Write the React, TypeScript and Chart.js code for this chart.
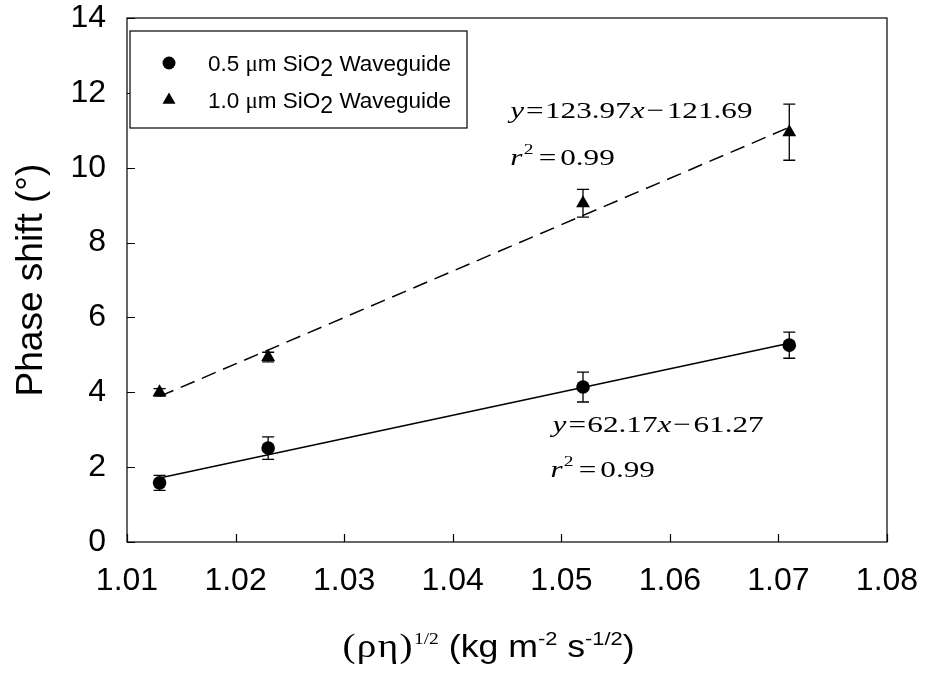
import React, { useEffect, useRef } from "react";
import { Chart, registerables } from "chart.js";

Chart.register(...registerables);

// ---- data ----
const xValues = [1.013, 1.023, 1.052, 1.071];
const phase05 = [1.58, 2.51, 4.14, 5.26];
const err05 = [0.2, 0.3, 0.4, 0.35];
const phase10 = [4.0, 4.94, 9.05, 10.95];
const err10 = [0.1, 0.13, 0.37, 0.75];
const fitX = [1.013, 1.071];
const fit05 = [1.71, 5.31];
const fit10 = [3.89, 11.08];
const xTicks = [1.01, 1.02, 1.03, 1.04, 1.05, 1.06, 1.07, 1.08];
const yTicks = [0, 2, 4, 6, 8, 10, 12, 14];
const seriesLabels = ["0.5 μm SiO2 Waveguide", "1.0 μm SiO2 Waveguide"];
const eqUpper = ["y", "=", "123.97", "x", "−", "121.69"];
const eqLower = ["y", "=", "62.17", "x", "−", "61.27"];
const r2Value = "0.99";
const yTitle = "Phase shift (°)";

const SANS = "'Liberation Sans', Arial, Helvetica, sans-serif";
const SERIF = "'Liberation Serif', 'Times New Roman', serif";

type Seg = { s: string; font: string; dy?: number; gap?: number; ls?: number };

function segsWidth(ctx: CanvasRenderingContext2D, segs: Seg[]) {
  let w = 0;
  for (const seg of segs) {
    ctx.font = seg.font;
    (ctx as any).letterSpacing = (seg.ls || 0) + "px";
    w += ctx.measureText(seg.s).width + (seg.gap || 0);
  }
  (ctx as any).letterSpacing = "0px";
  return w;
}

function drawSegs(ctx: CanvasRenderingContext2D, segs: Seg[], x: number, y: number, sx = 1) {
  ctx.save();
  ctx.translate(x, y);
  ctx.scale(sx, 1);
  let cx = 0;
  for (const seg of segs) {
    ctx.font = seg.font;
    (ctx as any).letterSpacing = (seg.ls || 0) + "px";
    cx += seg.gap || 0;
    ctx.fillText(seg.s, cx, seg.dy || 0);
    cx += ctx.measureText(seg.s).width;
  }
  (ctx as any).letterSpacing = "0px";
  ctx.restore();
}

const errorBars = {
  id: "errorBars",
  afterDatasetsDraw(chart: any) {
    const ctx = chart.ctx as CanvasRenderingContext2D;
    const xs = chart.scales.x;
    const ys = chart.scales.y;
    ctx.save();
    ctx.strokeStyle = "#000";
    ctx.lineWidth = 1.3;
    chart.data.datasets.forEach((ds: any) => {
      if (!ds.errors) return;
      ds.data.forEach((p: any, i: number) => {
        const e = ds.errors[i];
        const px = xs.getPixelForValue(p.x);
        const top = ys.getPixelForValue(p.y + e);
        const bot = ys.getPixelForValue(p.y - e);
        ctx.beginPath();
        ctx.moveTo(px, top);
        ctx.lineTo(px, bot);
        ctx.moveTo(px - 6, top);
        ctx.lineTo(px + 6, top);
        ctx.moveTo(px - 6, bot);
        ctx.lineTo(px + 6, bot);
        ctx.stroke();
      });
    });
    ctx.restore();
  },
};

const frameAndDecor = {
  id: "frameAndDecor",
  afterDraw(chart: any) {
    const ctx = chart.ctx as CanvasRenderingContext2D;
    const a = chart.chartArea;
    const xs = chart.scales.x;
    const ys = chart.scales.y;
    ctx.save();
    ctx.strokeStyle = "#000";
    ctx.lineWidth = 1.2;
    ctx.strokeRect(a.left, a.top, a.right - a.left, a.bottom - a.top);
    // inside ticks
    ctx.beginPath();
    yTicks.forEach((v) => {
      const py = Math.round(ys.getPixelForValue(v)) + 0.5;
      ctx.moveTo(a.left, py);
      ctx.lineTo(a.left + 8, py);
    });
    xTicks.forEach((v) => {
      const px = Math.round(xs.getPixelForValue(v)) + 0.5;
      ctx.moveTo(px, a.bottom);
      ctx.lineTo(px, a.bottom - 8);
    });
    ctx.stroke();

    // legend box
    const lx = a.left + 3;
    const ly = a.top + 13;
    ctx.fillStyle = "#fff";
    ctx.fillRect(lx, ly, 337, 97);
    ctx.strokeRect(lx, ly, 337, 97);
    ctx.fillStyle = "#000";
    const rows = [ly + 32, ly + 69];
    const mx = lx + 39;
    ctx.beginPath();
    ctx.arc(mx, rows[0], 6.5, 0, Math.PI * 2);
    ctx.fill();
    const r = 7.5;
    ctx.beginPath();
    ctx.moveTo(mx, rows[1] - r);
    ctx.lineTo(mx + r * Math.sin((2 * Math.PI) / 3), rows[1] + r * 0.5);
    ctx.lineTo(mx - r * Math.sin((2 * Math.PI) / 3), rows[1] + r * 0.5);
    ctx.closePath();
    ctx.fill();
    ctx.textBaseline = "alphabetic";
    ctx.textAlign = "left";
    seriesLabels.forEach((lab, i) => {
      const parts = lab.split(/(μ|(?<=SiO)2)/).filter((s) => s.length);
      const segs: Seg[] = parts.map((s, k) => {
        if (s === "μ") return { s, font: `23px ${SERIF}` };
        if (s === "2" && parts[k - 1] && parts[k - 1].endsWith("SiO")) return { s, font: `23px ${SANS}`, dy: 5 };
        return { s, font: `22.5px ${SANS}` };
      });
      drawSegs(ctx, segs, lx + 78, rows[i] + 8);
    });

    // equations (horizontally stretched serif, as in the source)
    const F = 24;
    const SX = 1.3;
    const eqSegs = (t: string[]): Seg[] => [
      { s: t[0], font: `italic ${F}px ${SERIF}` },
      { s: t[1], font: `${F}px ${SERIF}`, gap: 1.5 },
      { s: t[2], font: `${F}px ${SERIF}`, gap: 1 },
      { s: t[3], font: `italic ${F}px ${SERIF}` },
      { s: t[4], font: `${F}px ${SERIF}`, gap: 1.5 },
      { s: t[5], font: `${F}px ${SERIF}`, gap: 2 },
    ];
    const r2Segs: Seg[] = [
      { s: "r", font: `italic ${F}px ${SERIF}` },
      { s: "2", font: `15px ${SERIF}`, dy: -11, gap: 1 },
      { s: "=", font: `${F}px ${SERIF}`, gap: 4 },
      { s: r2Value, font: `${F}px ${SERIF}`, gap: 3 },
    ];
    drawSegs(ctx, eqSegs(eqUpper), xs.getPixelForValue(1.0453), ys.getPixelForValue(11.33), SX);
    drawSegs(ctx, r2Segs, xs.getPixelForValue(1.0453), ys.getPixelForValue(10.07), SX);
    drawSegs(ctx, eqSegs(eqLower), xs.getPixelForValue(1.0492), ys.getPixelForValue(2.94), SX);
    drawSegs(ctx, r2Segs, xs.getPixelForValue(1.049), ys.getPixelForValue(1.74), SX);

    // x title
    const TS = 1.15;
    const tSegs: Seg[] = [
      { s: "(ρη)", font: `34px ${SERIF}`, ls: 1.2 },
      { s: "1/2", font: `17px ${SERIF}`, dy: -13 },
      { s: " (kg m", font: `31px ${SANS}` },
      { s: "-2", font: `19px ${SANS}`, dy: -12 },
      { s: " s", font: `31px ${SANS}` },
      { s: "-1/2", font: `19px ${SANS}`, dy: -12 },
      { s: ")", font: `31px ${SANS}` },
    ];
    const tw = segsWidth(ctx, tSegs) * TS;
    const cx = 488.5;
    drawSegs(ctx, tSegs, cx - tw / 2, a.bottom + 115, TS);
    ctx.restore();
  },
};

export default function App() {
  const ref = useRef<HTMLCanvasElement>(null);
  useEffect(() => {
    document.body.style.margin = "0";
    const canvas = ref.current!;
    const chart = new Chart(canvas, {
      type: "scatter",
      data: {
        datasets: [
          {
            label: seriesLabels[0],
            data: xValues.map((x, i) => ({ x, y: phase05[i] })),
            pointStyle: "circle",
            pointRadius: 6.8,
            backgroundColor: "#000",
            borderColor: "#000",
            borderWidth: 0,
            showLine: false,
            errors: err05,
          } as any,
          {
            label: seriesLabels[1],
            data: xValues.map((x, i) => ({ x, y: phase10[i] })),
            pointStyle: "triangle",
            pointRadius: 8,
            backgroundColor: "#000",
            borderColor: "#000",
            borderWidth: 0,
            showLine: false,
            errors: err10,
          } as any,
          {
            label: "fit05",
            data: fitX.map((x, i) => ({ x, y: fit05[i] })),
            showLine: true,
            pointRadius: 0,
            borderColor: "#000",
            borderWidth: 1.5,
          },
          {
            label: "fit10",
            data: fitX.map((x, i) => ({ x, y: fit10[i] })),
            showLine: true,
            pointRadius: 0,
            borderColor: "#000",
            borderWidth: 1.5,
            borderDash: [15, 8],
          },
        ],
      },
      options: {
        responsive: false,
        animation: false,
        devicePixelRatio: 1,
        layout: { padding: { top: 18, right: 39, left: 0, bottom: 0 } },
        plugins: { legend: { display: false }, tooltip: { enabled: false } },
        scales: {
          x: {
            type: "linear",
            min: 1.01,
            max: 1.08,
            afterBuildTicks: (s: any) => {
              s.ticks = xTicks.map((v) => ({ value: v }));
            },
            afterFit: (s: any) => {
              s.height = 133;
              s.paddingLeft = 0;
              s.paddingRight = 0;
              s.paddingTop = 0;
              s.paddingBottom = 0;
            },
            ticks: {
              callback: (v: any) => Number(v).toFixed(2),
              font: { family: SANS, size: 32 },
              color: "#000",
              padding: 20,
              maxRotation: 0,
              autoSkip: false,
            },
            grid: { display: false, drawTicks: false },
            border: { display: false },
          },
          y: {
            type: "linear",
            min: 0,
            max: 14,
            afterBuildTicks: (s: any) => {
              s.ticks = yTicks.map((v) => ({ value: v }));
            },
            afterFit: (s: any) => {
              s.width = 127;
              s.paddingLeft = 0;
              s.paddingRight = 0;
              s.paddingTop = 0;
              s.paddingBottom = 0;
            },
            ticks: {
              callback: (v: any) => String(v),
              font: { family: SANS, size: 32 },
              color: "#000",
              padding: 21,
              autoSkip: false,
            },
            grid: { display: false, drawTicks: false },
            border: { display: false },
            title: {
              display: true,
              text: yTitle,
              font: { family: SANS, size: 37 },
              color: "#000",
              padding: { top: 10, bottom: 0 },
            },
          },
        },
      },
      plugins: [errorBars, frameAndDecor],
    });
    return () => chart.destroy();
  }, []);
  return (
    <div style={{ position: "absolute", left: 0, top: 0, width: 926, height: 675 }}>
      <canvas ref={ref} width={926} height={675} style={{ width: 926, height: 675, display: "block" }} />
    </div>
  );
}
